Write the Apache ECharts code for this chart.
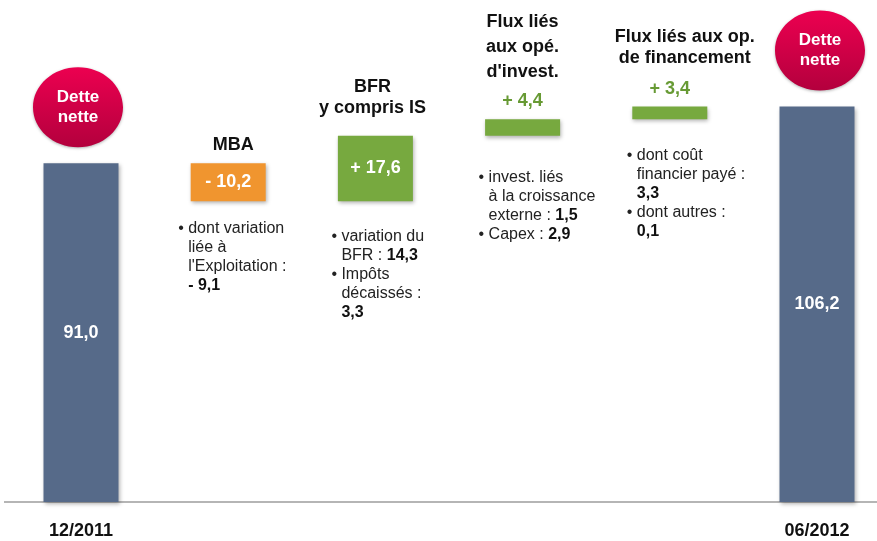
<!DOCTYPE html>
<html>
<head>
<meta charset="utf-8">
<script src="https://cdn.jsdelivr.net/npm/echarts@6/dist/echarts.min.js"></script>
<style>
  html, body { margin: 0; padding: 0; background: #fff; }
  #chart { width: 877px; height: 541px; }
</style>
</head>
<body>
<div id="chart"></div>
<script>
// --- data ---
const categories = ['12/2011', 'MBA', 'BFR', 'Invest', 'Financement', '06/2012'];
const xLabels = ['12/2011', '', '', '', '', '06/2012'];
const startDebt = 91.0;
const flows = [-10.2, 17.6, 4.4, 3.4];
const endDebt = 106.2;
const titles = ['', 'MBA', 'BFR\ny compris IS', "Flux liés\naux opé.\nd'invest.", 'Flux liés aux op.\nde financement', ''];
const notes = [
  [],
  [['dont variation', 'liée à', "l'Exploitation :", '{b|- 9,1}']],
  [['variation du', 'BFR : {b|14,3}'], ['Impôts', 'décaissés :', '{b|3,3}']],
  [['invest. liés', 'à la croissance', 'externe : {b|1,5}'], ['Capex : {b|2,9}']],
  [['dont coût', 'financier payé :', '{b|3,3}'], ['dont autres :', '{b|0,1}']],
  []
];
const endLabel = 'Dette\nnette';

// --- layout tweaks (pixels) ---
const titleGap = [0, 7, 17, 35, 38, 0];
const titleLH = [0, 22, 21, 25, 21, 0];
const titleDx = [0, 5, -3, 0, 15, 0];
const noteDx = [0, -50, -44, -44, -43, 0];
const noteDy = [0, 27, 35, 42, 36, 0];
const NOTE_LH = 19;
const FONT = "'Liberation Sans', Arial, sans-serif";
const NARROW = "'Liberation Sans Narrow', 'Arial Narrow', 'Liberation Sans', sans-serif";

// --- waterfall build ---
const base = [0];
const vals = [startDebt];
let running = startDebt;
flows.forEach(f => {
  base.push(f < 0 ? running + f : running);
  vals.push(Math.abs(f));
  running += f;
});
base.push(0);
vals.push(endDebt);

const fmt = v => v.toFixed(1).replace('.', ',');
const signed = f => (f < 0 ? '- ' : '+ ') + fmt(Math.abs(f));

const NAVY = '#566a89', ORANGE = '#f0952f', GREEN = '#77a93f', GREEN_TXT = '#679a34';
const shadow = { shadowBlur: 4, shadowColor: 'rgba(0,0,0,0.3)', shadowOffsetX: 1, shadowOffsetY: 2 };

const barData = vals.map((v, i) => {
  const isEnd = i === 0 || i === vals.length - 1;
  const f = isEnd ? null : flows[i - 1];
  const color = isEnd ? NAVY : (f < 0 ? ORANGE : GREEN);
  const small = !isEnd && Math.abs(f) < 8;
  return {
    value: v,
    itemStyle: Object.assign({ color }, shadow),
    label: {
      show: true,
      position: small ? 'top' : 'inside',
      distance: 9,
      formatter: isEnd ? fmt(v) : signed(f),
      color: small ? GREEN_TXT : '#fff',
      fontWeight: 'bold',
      fontSize: 18,
      fontFamily: FONT
    }
  };
});

const annot = vals.map((v, i) => [i, base[i] + v, base[i]]);

function renderItem(params, api) {
  const i = api.value(0);
  const top = api.coord([i, api.value(1)]);
  const bot = api.coord([i, api.value(2)]);
  const children = [];
  if (i === 0 || i === vals.length - 1) {
    const cy = top[1] - 56;
    const cx = top[0] + (i === 0 ? -3 : 3);
    children.push({
      type: 'ellipse',
      shape: { cx, cy, rx: 45, ry: 40 },
      style: {
        fill: new echarts.graphic.LinearGradient(0, 0, 0, 1, [
          { offset: 0, color: '#ec0050' },
          { offset: 1, color: '#b3003d' }
        ]),
        shadowBlur: 3, shadowColor: 'rgba(0,0,0,0.3)', shadowOffsetY: 1
      }
    });
    children.push({
      type: 'text',
      x: cx, y: cy,
      style: {
        text: endLabel, fill: '#fff', font: 'bold 17px ' + FONT,
        lineHeight: 20, align: 'center', verticalAlign: 'middle'
      }
    });
  }
  if (titles[i]) {
    children.push({
      type: 'text',
      x: top[0] + titleDx[i], y: top[1] - titleGap[i],
      style: {
        text: titles[i], fill: '#111', font: 'bold 18px ' + FONT,
        lineHeight: titleLH[i], align: 'center', verticalAlign: 'bottom'
      }
    });
  }
  let y = bot[1] + noteDy[i] - NOTE_LH / 2;
  const x0 = top[0] + noteDx[i];
  notes[i].forEach(lines => {
    children.push({
      type: 'text', x: x0, y,
      style: { text: '•', fill: '#222', font: '16px ' + FONT, lineHeight: NOTE_LH, align: 'left', verticalAlign: 'top' }
    });
    children.push({
      type: 'text', x: x0 + 10, y,
      style: {
        text: lines.join('\n'), fill: '#222', font: '16px ' + FONT, lineHeight: NOTE_LH,
        align: 'left', verticalAlign: 'top',
        rich: { b: { fontWeight: 'bold', fontSize: 16, fontFamily: FONT, fill: '#111', lineHeight: NOTE_LH } }
      }
    });
    y += lines.length * NOTE_LH;
  });
  return { type: 'group', children };
}

const chart = echarts.init(document.getElementById('chart'), null, { renderer: 'canvas' });
chart.setOption({
  animation: false,
  backgroundColor: '#fff',
  grid: { left: 81, right: 60, top: 18, bottom: 39 },
  xAxis: {
    type: 'category',
    data: categories,
    boundaryGap: false,
    axisLine: { show: false },
    axisTick: { show: false },
    axisLabel: {
      interval: 0,
      margin: 20,
      formatter: (v, i) => xLabels[i],
      color: '#111',
      fontWeight: 'bold',
      fontSize: 18,
      fontFamily: NARROW
    }
  },
  yAxis: { type: 'value', min: 0, max: 130, show: false },
  series: [
    { type: 'bar', stack: 'w', data: base, barWidth: 75, clip: false, itemStyle: { color: 'transparent' }, silent: true },
    { type: 'bar', stack: 'w', data: barData, barWidth: 75, clip: false, z: 3 },
    { type: 'custom', renderItem, data: annot, encode: { x: 0, y: 1 }, z: 10, clip: false, silent: true }
  ]
});

// baseline across the full width, at the y of value 0
const y0 = chart.convertToPixel({ yAxisIndex: 0 }, 0);
chart.setOption({
  graphic: [{
    type: 'line', z: 1,
    shape: { x1: 4, y1: y0, x2: 877, y2: y0 },
    style: { stroke: '#b5b5b5', lineWidth: 2 }
  }]
});
</script>
</body>
</html>
